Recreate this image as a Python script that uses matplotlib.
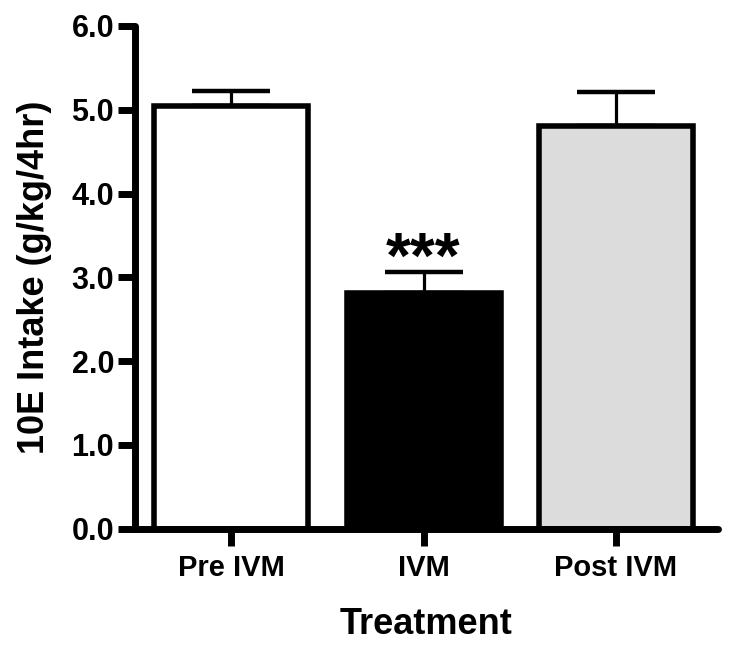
import matplotlib.pyplot as plt

plt.rcParams['font.family'] = ['Liberation Sans', 'DejaVu Sans']
plt.rcParams['font.weight'] = 'bold'

# data
groups = ['Pre IVM', 'IVM', 'Post IVM']
means = [5.05, 2.81, 4.81]
sem = [0.17, 0.25, 0.40]
fills = ['white', 'black', '#dcdcdc']

fig = plt.figure(figsize=(7.29, 6.48), dpi=100)
ax = fig.add_axes([0.185, 0.184, 0.80, 0.776])

x = range(len(groups))
ax.errorbar(x, means, yerr=[[0, 0, 0], sem], fmt='none', ecolor='black',
            elinewidth=2.3, capsize=28, capthick=3.2, zorder=1)
ax.bar(x, means, width=0.8, color=fills, edgecolor='black', linewidth=4, zorder=2)

# significance marker over IVM
ax.text(1, means[1] + sem[1] - 0.22, '***', ha='center', va='bottom',
        fontsize=46, fontweight='bold')

ax.set_xlim(-0.5, 2.53)
ax.set_ylim(0, 6.0)
ax.set_yticks([0, 1, 2, 3, 4, 5, 6])
ax.set_yticklabels(['0.0', '1.0', '2.0', '3.0', '4.0', '5.0', '6.0'])
ax.set_xticks(list(x))
ax.set_xticklabels(groups)

for s in ['top', 'right']:
    ax.spines[s].set_visible(False)
for s in ['left', 'bottom']:
    ax.spines[s].set_linewidth(5)
    ax.spines[s].set_capstyle('round')

ax.tick_params(axis='y', width=5, length=12, labelsize=22, pad=3)
ax.tick_params(axis='x', width=5, length=12, labelsize=21, pad=6)

ax.set_ylabel('10E Intake (g/kg/4hr)', fontsize=26, fontweight='bold', labelpad=14)
ax.set_xlabel('Treatment', fontsize=26, fontweight='bold', labelpad=18)

fig.savefig('out.png', dpi=100)
